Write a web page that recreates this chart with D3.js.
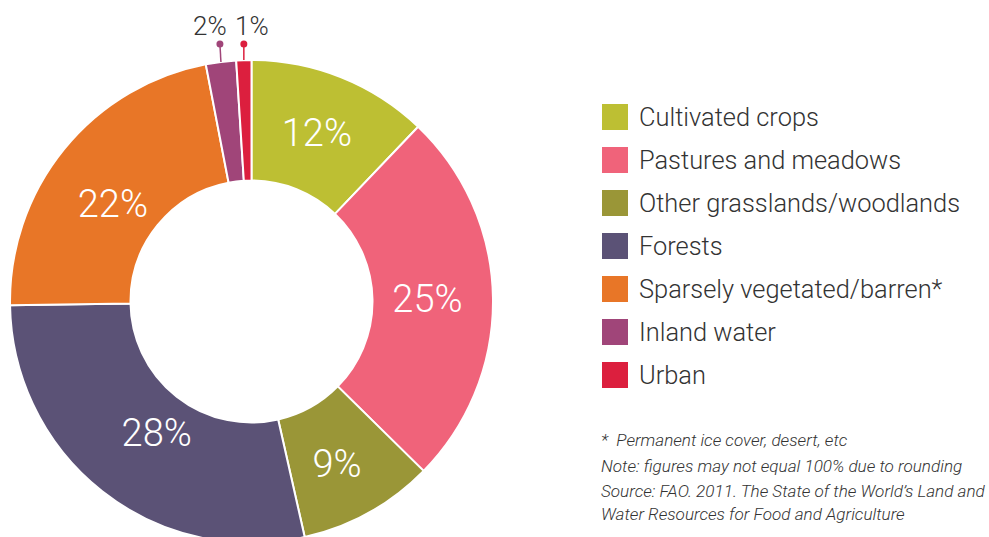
<!DOCTYPE html>
<html>
<head>
<meta charset="utf-8">
<script src="https://cdn.jsdelivr.net/npm/d3@7"></script>
<style>
  html, body { margin: 0; padding: 0; background: #fff; }
  svg { display: block; }
  text { font-family: Roboto, "Noto Sans", sans-serif; }
</style>
</head>
<body>
<svg id="chart" width="989" height="537"></svg>
<script>
// Global land cover shares (%)
const categories = [
  "Cultivated crops",
  "Pastures and meadows",
  "Other grasslands/woodlands",
  "Forests",
  "Sparsely vegetated/barren*",
  "Inland water",
  "Urban"
];
const shares = [12, 25, 9, 28, 22, 2, 1];
const colors = ["#bdbf33", "#f0637a", "#9a9637", "#5b5276", "#e87627", "#a04579", "#dc1f3e"];
const notes = [
  "*\u00a0\u00a0Permanent ice cover, desert, etc",
  "Note: figures may not equal 100% due to rounding",
  "Source: FAO. 2011. The State of the World\u2019s Land and",
  "Water Resources for Food and Agriculture"
];

const data = categories.map((c, i) => ({ name: c, value: shares[i], color: colors[i] }));

const svg = d3.select("#chart");
const cx = 251.5, cy = 301.5;
const outerR = 241.5, innerR = 121;

const pie = d3.pie().value(d => d.value).sort(null);
const arcs = pie(data);
const arc = d3.arc().innerRadius(innerR).outerRadius(outerR);
const labelArc = d3.arc().innerRadius(176).outerRadius(176);
const edgeArc = d3.arc().innerRadius(outerR).outerRadius(outerR);

const g = svg.append("g").attr("transform", `translate(${cx},${cy})`);

g.selectAll("path.slice")
  .data(arcs)
  .join("path")
  .attr("class", "slice")
  .attr("d", arc)
  .attr("fill", d => d.data.color)
  .attr("stroke", "#fff")
  .attr("stroke-width", 2);

// Large slices: value inside the ring (small hand nudges for legibility)
const nudge = {
  "Cultivated crops": [0, -5],
  "Pastures and meadows": [0, 0],
  "Other grasslands/woodlands": [0, 9],
  "Forests": [14, -7],
  "Sparsely vegetated/barren*": [-2, 13]
};
const big = arcs.filter(d => d.data.value >= 5);
g.selectAll("text.inner")
  .data(big)
  .join("text")
  .attr("class", "inner")
  .attr("x", d => labelArc.centroid(d)[0] + (nudge[d.data.name] || [0, 0])[0])
  .attr("y", d => labelArc.centroid(d)[1] + (nudge[d.data.name] || [0, 0])[1])
  .attr("text-anchor", "middle")
  .attr("dominant-baseline", "central")
  .attr("fill", "#fff")
  .attr("font-size", 38)
  .attr("font-weight", 300)
  .text(d => d.data.value + "%");

// Small slices: value above the ring with a leader line
const small = arcs.filter(d => d.data.value < 5);
const dotY = -cy + 44;
const labelDx = [-11, 8];
small.forEach((d, i) => {
  const [ex, ey] = edgeArc.centroid(d);
  g.append("line")
    .attr("x1", ex).attr("y1", ey)
    .attr("x2", ex - (i === 0 ? 1 : 0)).attr("y2", dotY)
    .attr("stroke", d.data.color)
    .attr("stroke-width", 1.5);
  g.append("circle")
    .attr("cx", ex - (i === 0 ? 1 : 0)).attr("cy", dotY)
    .attr("r", 3.5)
    .attr("fill", d.data.color);
  g.append("text")
    .attr("x", ex + labelDx[i])
    .attr("y", dotY - 9)
    .attr("text-anchor", "middle")
    .attr("fill", "#333")
    .attr("font-size", 26)
    .attr("font-weight", 300)
    .text(d.data.value + "%");
});

// Legend
const legend = svg.append("g").attr("transform", "translate(602,104)");
const rows = legend.selectAll("g.row")
  .data(data)
  .join("g")
  .attr("class", "row")
  .attr("transform", (d, i) => `translate(0,${i * 43})`);
rows.append("rect")
  .attr("width", 26).attr("height", 26)
  .attr("fill", d => d.color);
rows.append("text")
  .attr("x", 37).attr("y", 22)
  .attr("fill", "#333")
  .attr("font-size", 25.4)
  .attr("font-weight", 300)
  .text(d => d.name);

// Footnotes
const noteY = [446, 472, 497, 520];
svg.append("g").selectAll("text")
  .data(notes)
  .join("text")
  .attr("x", 601)
  .attr("y", (d, i) => noteY[i])
  .attr("fill", "#333")
  .attr("font-size", 17.1)
  .attr("font-style", "italic")
  .attr("font-weight", 300)
  .text(d => d);
</script>
</body>
</html>
